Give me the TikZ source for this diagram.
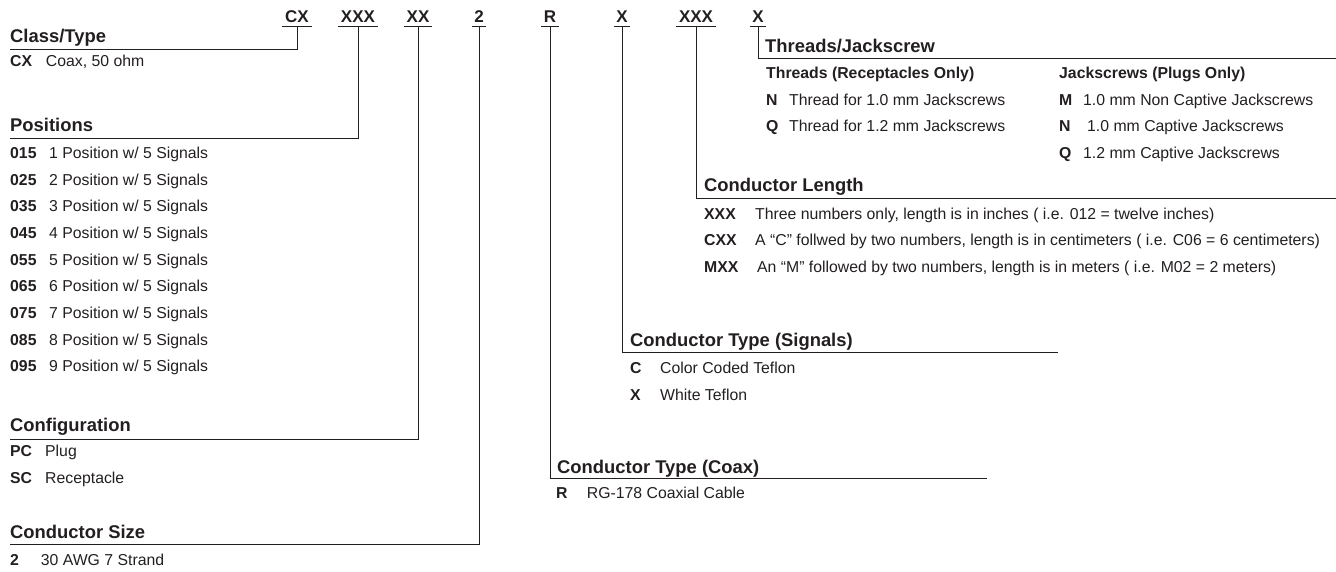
\documentclass[tikz,border=0pt]{standalone}
\usepackage{fontspec}
\setmainfont{Liberation Sans}
\usepackage{tikz}
\definecolor{ink}{RGB}{35,31,32}
\tikzstyle{partcode} = [anchor=south, inner xsep=2.5pt, inner ysep=3.3pt, text depth=0pt, font=\fontsize{17}{20}\selectfont\bfseries, text=ink]
\tikzstyle{heading} = [anchor=base west, inner sep=0pt, font=\fontsize{18.4}{22}\selectfont\bfseries, text=ink]
\tikzstyle{subheading} = [anchor=base west, inner sep=0pt, font=\fontsize{15.8}{19}\selectfont\bfseries, text=ink]
\tikzstyle{entry} = [anchor=base west, inner sep=0pt, font=\fontsize{15.8}{19}\selectfont, text=ink]
\tikzstyle{leader} = [line width=1pt, draw=ink]
\newcommand{\pn}[2]{\makebox[#1pt][l]{\textbf{#2}}}

\begin{document}
\begin{tikzpicture}[x=1pt, y=-1pt]
     \useasboundingbox (0, 0) rectangle (1336, 571);
     % part number
     \node (cx) at (297, 26) [partcode] {CX};
     \node (pos) at (358, 26) [partcode] {XXX};
     \node (conf) at (418, 26) [partcode] {XX};
     \node (size) at (479, 26) [partcode] {2};
     \node (coax) at (550, 26) [partcode] {R};
     \node (sig) at (622, 26) [partcode] {X};
     \node (len) at (696, 26) [partcode] {XXX};
     \node (jack) at (758, 26) [partcode] {X};
     \foreach \c in {cx, pos, conf, size, coax, sig, len, jack}
          \draw [leader] (\c.south west) -- (\c.south east);

     % class / type
     \node (classhead) at (10, 42.7) [heading] {Class/Type};
     \coordinate (classend) at (10, 49.3);
     \draw [leader] (cx.south) |- (classend);
     \node (class1) at (10, 66.7) [entry] {\pn{35.7}{CX}Coax, 50 ohm};

     % positions
     \node (poshead) at (10, 131.7) [heading] {Positions};
     \coordinate (posend) at (10, 138.3);
     \draw [leader] (pos.south) |- (posend);
     \node (pos1) at (10, 158.3) [entry] {\pn{39}{015}1 Position w/ 5 Signals};
     \node (pos2) at (10, 185.0) [entry] {\pn{39}{025}2 Position w/ 5 Signals};
     \node (pos3) at (10, 211.7) [entry] {\pn{39}{035}3 Position w/ 5 Signals};
     \node (pos4) at (10, 238.4) [entry] {\pn{39}{045}4 Position w/ 5 Signals};
     \node (pos5) at (10, 265.1) [entry] {\pn{39}{055}5 Position w/ 5 Signals};
     \node (pos6) at (10, 291.8) [entry] {\pn{39}{065}6 Position w/ 5 Signals};
     \node (pos7) at (10, 318.5) [entry] {\pn{39}{075}7 Position w/ 5 Signals};
     \node (pos8) at (10, 345.2) [entry] {\pn{39}{085}8 Position w/ 5 Signals};
     \node (pos9) at (10, 371.9) [entry] {\pn{39}{095}9 Position w/ 5 Signals};

     % configuration
     \node (confhead) at (10, 431.7) [heading] {Configuration};
     \coordinate (confend) at (10, 439.3);
     \draw [leader] (conf.south) |- (confend);
     \node (conf1) at (10, 456.7) [entry] {\pn{35}{PC}Plug};
     \node (conf2) at (10, 483.3) [entry] {\pn{35}{SC}Receptacle};

     % conductor size
     \node (sizehead) at (10, 538.3) [heading] {Conductor Size};
     \coordinate (sizeend) at (10, 544);
     \draw [leader] (size.south) |- (sizeend);
     \node (size1) at (10, 565.7) [entry] {\pn{30.7}{2}30 AWG 7 Strand};

     % conductor type (coax)
     \node (coaxhead) at (557, 473.3) [heading] {Conductor Type (Coax)};
     \coordinate (coaxend) at (987, 478.3);
     \draw [leader] (coax.south) |- (coaxend);
     \node (coax1) at (556, 498.3) [entry] {\pn{30.7}{R}RG-178 Coaxial Cable};

     % conductor type (signals)
     \node (sighead) at (630, 346.7) [heading] {Conductor Type (Signals)};
     \coordinate (sigend) at (1058, 352.3);
     \draw [leader] (sig.south) |- (sigend);
     \node (sig1) at (630, 373.3) [entry] {\pn{30}{C}Color Coded Teflon};
     \node (sig2) at (630, 400.0) [entry] {\pn{30}{X}White Teflon};

     % conductor length
     \node (lenhead) at (704, 191.5) [heading] {Conductor Length};
     \coordinate (lenend) at (1336, 198);
     \draw [leader] (len.south) |- (lenend);
     \node (len1) at (704, 219.0) [entry] {\pn{51}{XXX}Three numbers only, length is in inches ( i.e. 012 = twelve inches)};
     \node (len2) at (704, 245.7) [entry] {\pn{51}{CXX}A “C” follwed by two numbers, length is in centimeters ( i.e. C06 = 6 centimeters)};
     \node (len3) at (704, 272.3) [entry] {\pn{53}{MXX}An “M” followed by two numbers, length is in meters ( i.e. M02 = 2 meters)};

     % threads / jackscrew
     \node (jackhead) at (765, 52) [heading] {Threads/Jackscrew};
     \coordinate (jackend) at (1336, 58.5);
     \draw [leader] (jack.south) |- (jackend);
     \node (thrhead) at (766, 78.3) [subheading] {Threads (Receptacles Only)};
     \node (thr1) at (766, 105.0) [entry] {\pn{23}{N}Thread for 1.0 mm Jackscrews};
     \node (thr2) at (766, 131.7) [entry] {\pn{23}{Q}Thread for 1.2 mm Jackscrews};
     \node (plughead) at (1059, 78.3) [subheading] {Jackscrews (Plugs Only)};
     \node (plug1) at (1059, 105.0) [entry] {\pn{24}{M}1.0 mm Non Captive Jackscrews};
     \node (plug2) at (1059, 131.7) [entry] {\pn{28}{N}1.0 mm Captive Jackscrews};
     \node (plug3) at (1059, 158.3) [entry] {\pn{24}{Q}1.2 mm Captive Jackscrews};
   \end{tikzpicture}
\end{document}
